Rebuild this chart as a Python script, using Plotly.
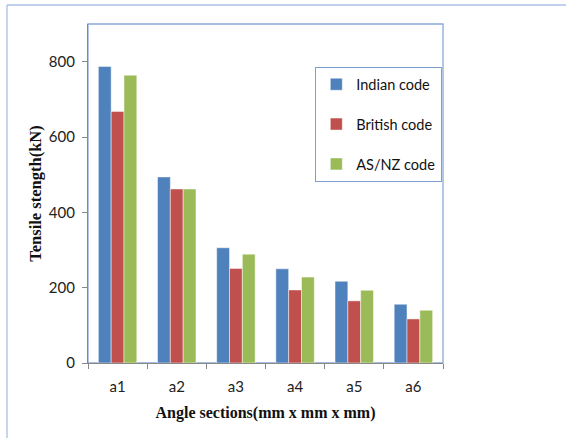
import plotly.graph_objects as go

categories = ["a1", "a2", "a3", "a4", "a5", "a6"]
indian = [787, 494, 306, 250, 217, 156]
british = [668, 462, 251, 194, 165, 117]
asnz = [764, 462, 289, 228, 193, 140]
series_names = ["Indian code", "British code", "AS/NZ code"]
colors = ["#4F81BD", "#C0504D", "#9BBB59"]
y_ticks = [0, 200, 400, 600, 800]

fig = go.Figure()
for name, vals, col in zip(series_names, [indian, british, asnz], colors):
    fig.add_trace(go.Bar(
        x=categories, y=vals, name=name, legendgroup=name,
        marker=dict(color=col, line=dict(color="rgba(255,255,255,0.6)", width=0.8)),
    ))

W, H = 566, 438
L, R, T, B = 88, 443, 24, 363
pw, ph = R - L, B - T

def px(x):
    return (x - L) / pw

def py(y):
    return (B - y) / ph

fig.update_layout(
    width=W, height=H,
    margin=dict(l=L, r=W - R, t=T, b=H - B, pad=0),
    paper_bgcolor="white", plot_bgcolor="white",
    barmode="group", bargap=0.35, bargroupgap=0,
    font=dict(family="Lato", size=14, color="#222222"),
    showlegend=True,
    legend=dict(
        x=px(315), y=py(67), xanchor="left", yanchor="top",
        bgcolor="white", bordercolor="#7F9FD0", borderwidth=1.3,
        font=dict(family="Lato", size=14.5, color="#111111"),
        traceorder="grouped", tracegroupgap=18, itemwidth=30,
    ),
    xaxis=dict(
        showline=True, linecolor="#888888", linewidth=1.3,
        ticks="outside", tickson="boundaries", ticklen=5, tickcolor="#888888",
        ticklabelstandoff=10,
        tickfont=dict(family="Lato", size=15, color="#222222"),
        title=dict(text="Angle sections(mm x mm x mm)", standoff=12,
                   font=dict(family="Liberation Serif", size=16, color="#111111", weight="bold")),
        showgrid=False, zeroline=False,
    ),
    yaxis=dict(
        range=[0, 900], tickvals=y_ticks,
        showline=True, linecolor="#888888", linewidth=1.3,
        ticks="outside", ticklen=5, tickcolor="#888888",
        ticklabelstandoff=4,
        tickfont=dict(family="Lato", size=15, color="#222222"),
        title=dict(text="Tensile stength(kN)", standoff=2,
                   font=dict(family="Liberation Serif", size=16.5, color="#111111", weight="bold")),
        showgrid=False, zeroline=False,
    ),
    shapes=[
        dict(type="rect", xref="paper", yref="paper", x0=0, x1=1, y0=0, y1=1,
             line=dict(color="#8AA8D8", width=1.3), layer="below"),
        dict(type="line", xref="paper", yref="paper", x0=px(7), x1=px(566), y0=py(5), y1=py(5),
             line=dict(color="#A8C0E4", width=1.3)),
        dict(type="line", xref="paper", yref="paper", x0=px(7), x1=px(7), y0=py(5), y1=py(440),
             line=dict(color="#A8C0E4", width=1.3)),
    ],
)

fig.write_html("out.html")
